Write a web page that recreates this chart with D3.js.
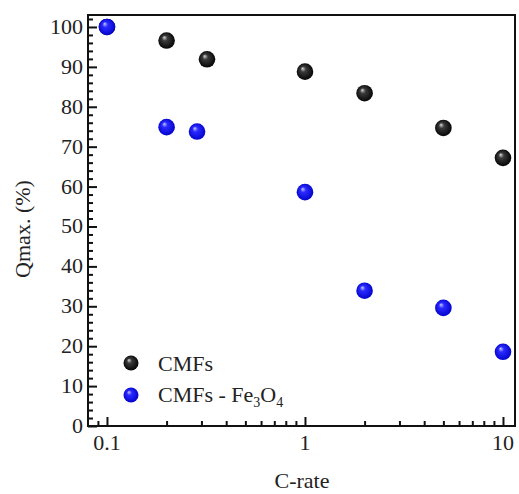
<!DOCTYPE html>
<html>
<head>
<meta charset="utf-8">
<script src="https://cdn.jsdelivr.net/npm/d3@7"></script>
<style>
  body { margin: 0; background: #fff; }
  #wrap { position: relative; width: 519px; height: 494px; overflow: hidden; }
  svg { display: block; position: absolute; left: 0; top: 0; }
  .lbl { position: absolute; font-family: "Liberation Serif", serif;
         font-size: 22px; line-height: 18px; color: #222; white-space: nowrap; }
  .lbl .sub { font-size: 14px; position: relative; top: 5px; }
</style>
</head>
<body>
<div id="wrap">
<svg id="chart" width="519" height="494"></svg>
</div>
<script>
// data
var cRate = [0.1, 0.2, 0.32, 1, 2, 5, 10];
var cmfs = [100, 96.6, 91.9, 88.8, 83.4, 74.7, 67.2];
var cRateFe = [0.1, 0.2, 0.285, 1, 2, 5, 10];
var cmfsFe3O4 = [100, 74.9, 73.8, 58.6, 33.9, 29.6, 18.6];
var xTickLabels = [0.1, 1, 10];
var yTickLabels = [0, 10, 20, 30, 40, 50, 60, 70, 80, 90, 100];

var LEFT = 88, RIGHT = 515, TOP = 15, BOTTOM = 426;

var wrap = d3.select("#wrap");
var svg = d3.select("#chart");

var x = d3.scaleLog().domain([0.0802, 11.5]).range([LEFT, RIGHT]);
var y = d3.scaleLinear().domain([0, 103]).range([BOTTOM, TOP]);

// labels as html divs (serif face drops out above ~22px here), anchor = start | middle | end
function label(px, py, anchor, html, rot) {
  var tx = anchor === "end" ? "-100%" : anchor === "middle" ? "-50%" : "0";
  return wrap.append("div").attr("class", "lbl")
    .style("left", px + "px").style("top", py + "px")
    .style("transform", "translate(" + tx + ",-50%)" + (rot ? " rotate(" + rot + "deg)" : ""))
    .html(html);
}

// ball gradients
var defs = svg.append("defs");
function ball(id, hi, mid, dark) {
  var g = defs.append("radialGradient").attr("id", id)
    .attr("cx", "0.5").attr("cy", "0.5").attr("r", "0.55")
    .attr("fx", "0.35").attr("fy", "0.3");
  g.append("stop").attr("offset", "0").attr("stop-color", hi);
  g.append("stop").attr("offset", "0.3").attr("stop-color", mid);
  g.append("stop").attr("offset", "1").attr("stop-color", dark);
}
ball("gBlack", "#d8d8d8", "#3a3a3a", "#000");
ball("gBlue", "#c8c8ff", "#2a2aff", "#0000c8");

// minor ticks
var xMinor = [];
[0.01, 0.1, 1, 10].forEach(function(d){
  for (var k = 2; k <= 9; k++) {
    var v = d * k;
    if (v > x.domain()[0] && v < x.domain()[1]) xMinor.push(v);
  }
});
var yMinor = d3.range(0, 103, 2).filter(function(v){ return v % 10 !== 0; });

function tickStyle(g) {
  g.select(".domain").remove();
  g.selectAll("line").attr("stroke", "#111").attr("stroke-width", 2);
  g.selectAll("text").remove();
}

svg.append("g")
  .attr("transform", "translate(0," + BOTTOM + ")")
  .call(d3.axisBottom(x).tickValues(xMinor).tickSize(-5))
  .call(tickStyle);

svg.append("g")
  .attr("transform", "translate(" + LEFT + ",0)")
  .call(d3.axisLeft(y).tickValues(yMinor).tickSize(-5))
  .call(tickStyle);

svg.append("g")
  .attr("transform", "translate(0," + BOTTOM + ")")
  .call(d3.axisBottom(x).tickValues(xTickLabels).tickSize(-9))
  .call(tickStyle);

svg.append("g")
  .attr("transform", "translate(" + LEFT + ",0)")
  .call(d3.axisLeft(y).tickValues(yTickLabels).tickSize(-9))
  .call(tickStyle);

// tick labels
xTickLabels.forEach(function(d){
  label(x(d), BOTTOM + 17, "middle", String(d));
});
yTickLabels.forEach(function(d){
  label(LEFT - 5, y(d), "end", String(d));
});

// frame
svg.append("rect")
  .attr("x", LEFT).attr("y", TOP)
  .attr("width", RIGHT - LEFT).attr("height", BOTTOM - TOP)
  .attr("fill", "none").attr("stroke", "#111").attr("stroke-width", 2);

// points
var R = 8.3;
svg.append("g").selectAll("circle")
  .data(cRate.map(function(d, i){ return [d, cmfs[i]]; }))
  .enter().append("circle")
  .attr("cx", function(d){ return x(d[0]); })
  .attr("cy", function(d){ return y(d[1]); })
  .attr("r", R)
  .attr("fill", "url(#gBlack)");

svg.append("g").selectAll("circle")
  .data(cRateFe.map(function(d, i){ return [d, cmfsFe3O4[i]]; }))
  .enter().append("circle")
  .attr("cx", function(d){ return x(d[0]); })
  .attr("cy", function(d){ return y(d[1]); })
  .attr("r", R)
  .attr("fill", "url(#gBlue)");

// legend
svg.append("circle").attr("cx", 131).attr("cy", 363).attr("r", 7.5).attr("fill", "url(#gBlack)");
svg.append("circle").attr("cx", 131).attr("cy", 395).attr("r", 7.5).attr("fill", "url(#gBlue)");
label(158, 364, "start", "CMFs");
label(158, 396, "start", "CMFs - Fe<span class='sub'>3</span>O<span class='sub'>4</span>");

// axis titles
label(23, 229, "middle", "Qmax. (%)", -90);
label(302, 481, "middle", "C-rate");
</script>
</body>
</html>
